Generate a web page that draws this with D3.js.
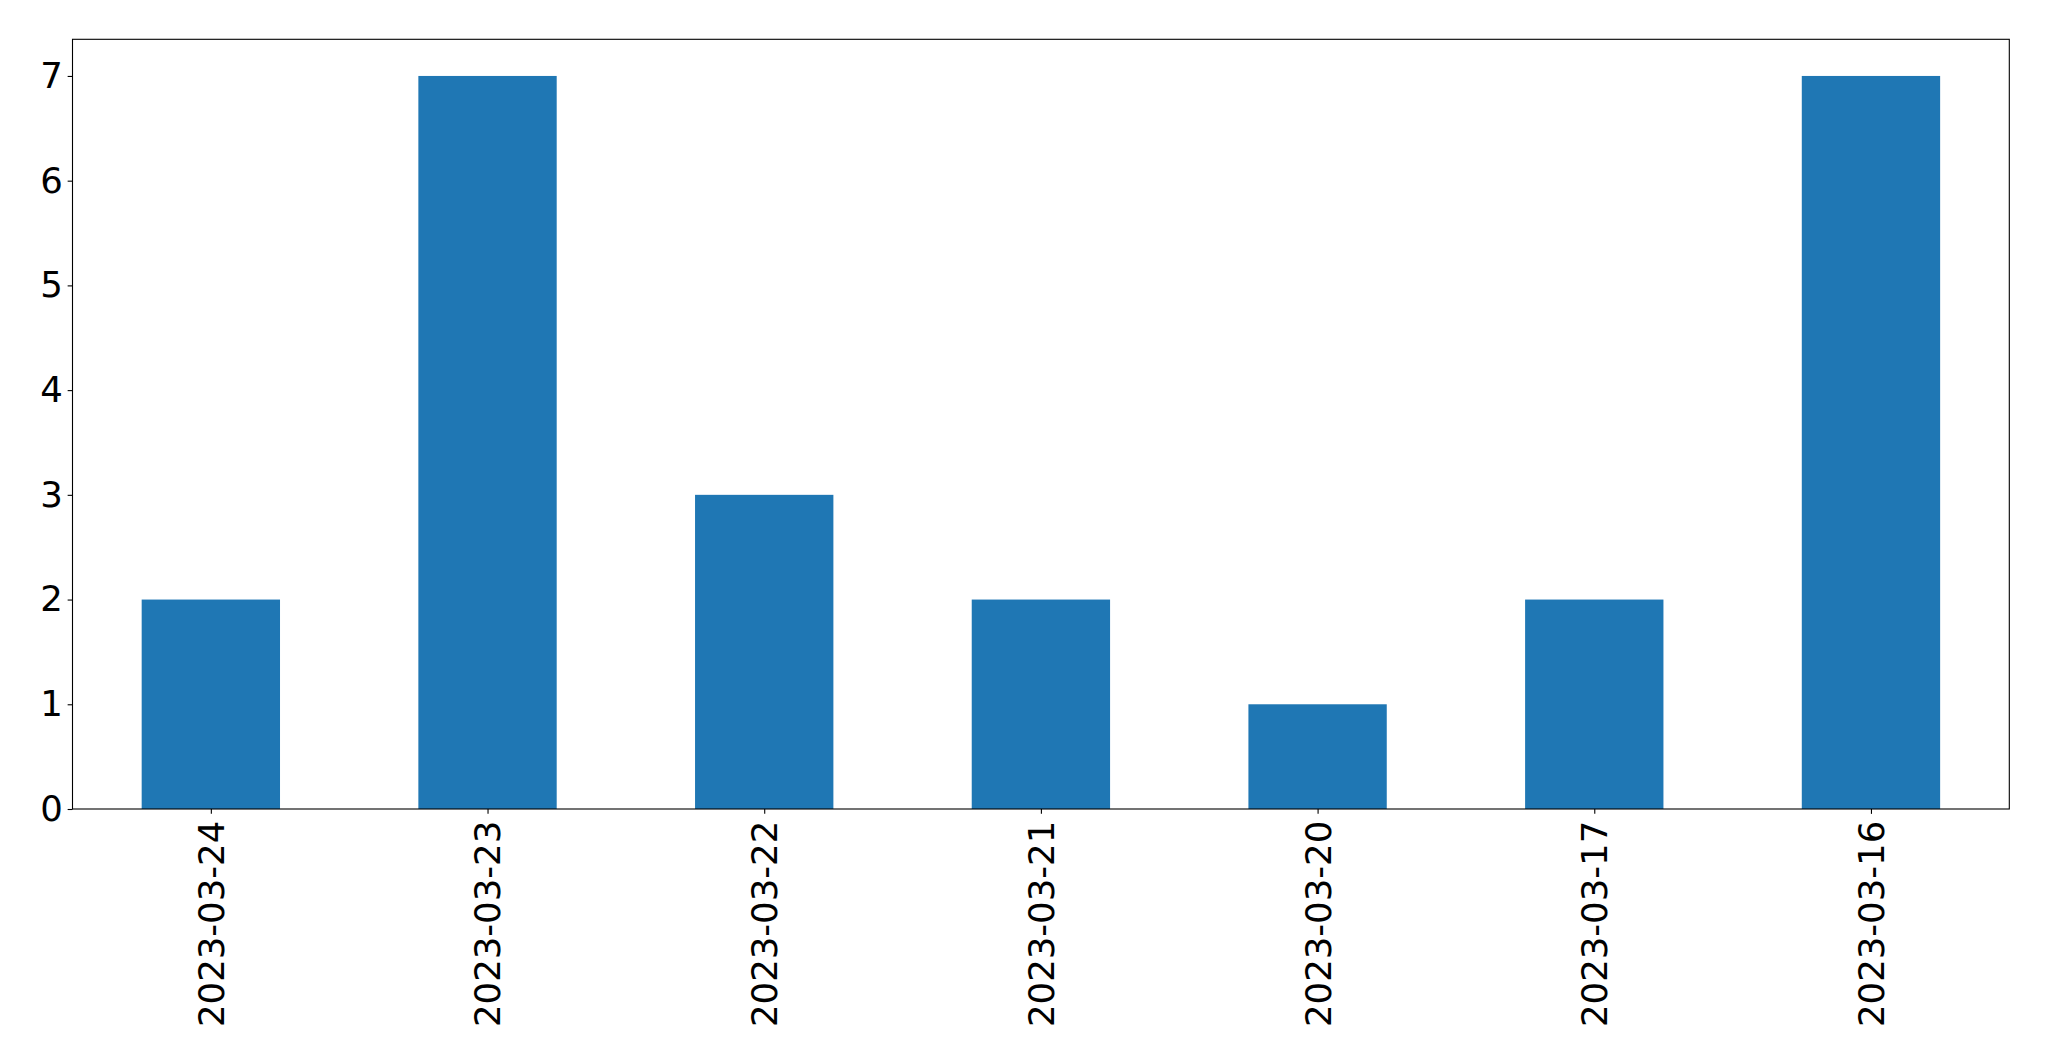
<!DOCTYPE html>
<html>
<head>
<meta charset="utf-8">
<script src="https://cdn.jsdelivr.net/npm/d3@7"></script>
<style>
  html, body { margin: 0; padding: 0; background: #fff; }
  svg { display: block; }
  text { font-family: "DejaVu Sans", sans-serif; fill: #000; }
</style>
</head>
<body>
<svg id="chart" width="2049" height="1061"></svg>
<script>
const categories = ["2023-03-24", "2023-03-23", "2023-03-22", "2023-03-21", "2023-03-20", "2023-03-17", "2023-03-16"];
const values = [2, 7, 3, 2, 1, 2, 7];
const yTicks = [0, 1, 2, 3, 4, 5, 6, 7];

const W = 2049, H = 1061;
const margin = { left: 72.5, right: 2049 - 2009.3, top: 39.3, bottom: 1061 - 809 };
const svg = d3.select("#chart");
const pw = W - margin.left - margin.right;
const ph = H - margin.top - margin.bottom;
const g = svg.append("g").attr("transform", `translate(${margin.left},${margin.top})`);

const x = d3.scaleLinear().domain([-0.5, categories.length - 0.5]).range([0, pw]);
const y = d3.scaleLinear().domain([0, d3.max(values) * 1.05]).range([ph, 0]);
const barW = 0.5;

g.selectAll("rect.bar").data(values).enter().append("rect")
  .attr("class", "bar")
  .attr("x", (d, i) => x(i - barW / 2))
  .attr("width", (d, i) => x(i + barW / 2) - x(i - barW / 2))
  .attr("y", d => y(d))
  .attr("height", d => y(0) - y(d))
  .attr("fill", "#1f77b4");

const fontSize = 35.5;
const tickLen = 4.86, pad = 4.86;

const yAxis = d3.axisLeft(y).tickValues(yTicks).tickFormat(d3.format("d")).tickSize(tickLen).tickPadding(pad);
const ya = g.append("g").call(yAxis);
ya.select(".domain").remove();
ya.selectAll("line").attr("stroke", "#000").attr("stroke-width", 1.1);
ya.selectAll("text").style("font-size", fontSize + "px").attr("font-family", "DejaVu Sans");

const xAxis = d3.axisBottom(x).tickValues(d3.range(categories.length)).tickFormat(i => categories[i]).tickSize(tickLen).tickPadding(pad);
const xa = g.append("g").attr("transform", `translate(0,${ph})`).call(xAxis);
xa.select(".domain").remove();
xa.selectAll("line").attr("stroke", "#000").attr("stroke-width", 1.1);
xa.selectAll("text")
  .style("font-size", fontSize + "px")
  .attr("font-family", "DejaVu Sans")
  .attr("transform", `rotate(-90)`)
  .attr("x", -(tickLen + pad + 2))
  .attr("y", 0)
  .attr("dy", "0.35em")
  .attr("text-anchor", "end");

g.append("rect")
  .attr("x", 0).attr("y", 0).attr("width", pw).attr("height", ph)
  .attr("fill", "none").attr("stroke", "#000").attr("stroke-width", 1.1);
</script>
</body>
</html>
